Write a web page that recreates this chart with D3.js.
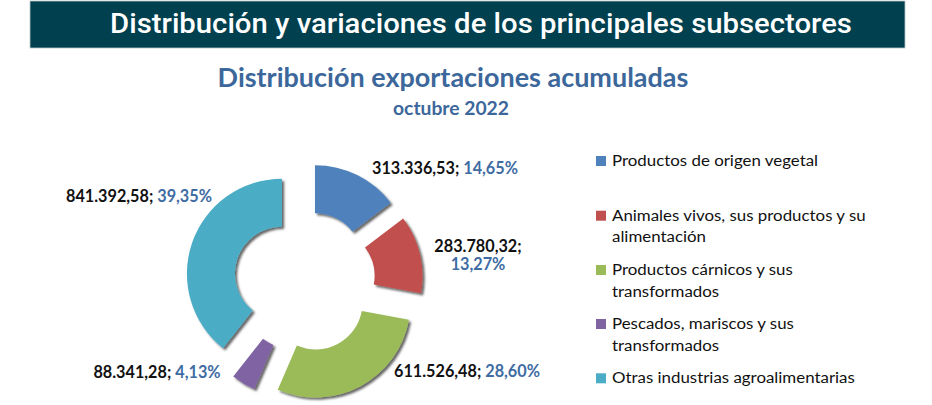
<!DOCTYPE html>
<html><head><meta charset="utf-8">
<script src="https://cdn.jsdelivr.net/npm/d3@7"></script>
<style>body{margin:0;background:#fff} svg{display:block}</style>
</head><body>
<svg id="chart" width="932" height="405"></svg>
<script>
// ---- data ----
const categories = ["Productos de origen vegetal","Animales vivos, sus productos y su alimentación","Productos cárnicos y sus transformados","Pescados, mariscos y sus transformados","Otras industrias agroalimentarias"];
const legendLines = [["Productos de origen vegetal"],["Animales vivos, sus productos y su","alimentación"],["Productos cárnicos y sus","transformados"],["Pescados, mariscos y sus","transformados"],["Otras industrias agroalimentarias"]];
const values = [313336.53, 283780.32, 611526.48, 88341.28, 841392.58];
const headerTitle = "Distribución y variaciones de los principales subsectores";
const chartTitle = "Distribución exportaciones acumuladas";
const chartSubtitle = "octubre 2022";

// ---- styles / layout ----
const colors = ["#4F81BD","#C0504D","#9BBB59","#8064A2","#4BACC6"];
const donut = {cx: 304.4, cy: 281.5, R: 95, r: 47, explode: 23.8};
const labelLayout = [
  {x: 445, y: 174, wrap: false},
  {x: 478, y: 252, wrap: true},
  {x: 467, y: 377, wrap: false},
  {x: 157, y: 378, wrap: false},
  {x: 139, y: 202, wrap: false}
];
const legendLayout = {x: 596, textX: 612, baselines: [166, 220.7, 275, 329, 383.3], lineGap: 21.5};

const svg = d3.select("#chart");
const locale = d3.formatLocale({decimal: ",", thousands: ".", grouping: [3], currency: ["", "€"]});
const fmtNum = locale.format(",.2f");
const fmtPct = locale.format(".2f");

const defs = svg.append("defs");
const f = defs.append("filter").attr("id", "shadow").attr("x", "-20%").attr("y", "-20%").attr("width", "140%").attr("height", "140%");
f.append("feDropShadow").attr("dx", 2.2).attr("dy", 2.2).attr("stdDeviation", 1.1)
  .attr("flood-color", "#000").attr("flood-opacity", 0.6);

function fitG(g, textNode, targetW) {
  const w = textNode.getBBox().width;
  return w > 0 ? targetW / w : 1;
}

// header
svg.append("rect").attr("x", 30).attr("y", 1).attr("width", 875).attr("height", 47)
  .attr("fill", "#00404F").attr("stroke", "#b9c6c9").attr("stroke-width", 0.8);
{
  const g = svg.append("g");
  const t = g.append("text").attr("text-anchor", "middle")
    .attr("font-family", "Roboto").attr("font-weight", 500).attr("font-size", 27.5).attr("fill", "#fff").text(headerTitle);
  const k = fitG(g, t.node(), 742);
  g.attr("transform", `translate(481,33) scale(${k},1)`);
}
// titles
{
  const g = svg.append("g");
  const t = g.append("text").attr("text-anchor", "middle")
    .attr("font-family", "Lato").attr("font-weight", 700).attr("font-size", 26.5).attr("fill", "#3C679B").text(chartTitle);
  const k = fitG(g, t.node(), 471);
  g.attr("transform", `translate(453,87) scale(${k},1)`);
  const g2 = svg.append("g");
  const t2 = g2.append("text").attr("text-anchor", "middle")
    .attr("font-family", "Lato").attr("font-weight", 700).attr("font-size", 19.5).attr("fill", "#3C679B").text(chartSubtitle);
  const k2 = fitG(g2, t2.node(), 116);
  g2.attr("transform", `translate(451,115) scale(${k2},1)`);
}

// donut
const total = d3.sum(values);
const pie = d3.pie().sort(null).value(d => d);
const arcs = pie(values);
const arc = d3.arc().innerRadius(donut.r).outerRadius(donut.R);
const dg = svg.append("g").attr("transform", `translate(${donut.cx},${donut.cy})`);
dg.selectAll("path").data(arcs).join("path")
  .attr("d", arc)
  .attr("fill", (d, i) => colors[i])
  .attr("filter", "url(#shadow)")
  .attr("transform", d => {
    const a = (d.startAngle + d.endAngle) / 2;
    return `translate(${Math.sin(a) * donut.explode},${-Math.cos(a) * donut.explode})`;
  });

// labels
const labelFont = 16.5;
arcs.forEach((d, i) => {
  const L = labelLayout[i];
  const num = fmtNum(values[i]) + ";";
  const pct = fmtPct(values[i] / total * 100) + "%";
  const g = svg.append("g");
  const t = g.append("text").attr("text-anchor", "middle")
    .attr("font-family", "Lato").attr("font-weight", 700).attr("font-size", labelFont);
  if (!L.wrap) {
    t.append("tspan").attr("fill", "#111").text(num + " ");
    t.append("tspan").attr("fill", "#3E6CA3").text(pct);
  } else {
    t.append("tspan").attr("x", 0).attr("fill", "#111").text(num);
    t.append("tspan").attr("x", 0).attr("dy", 18.5).attr("fill", "#3E6CA3").text(pct);
  }
  d.labelG = g; d.labelT = t;
});
// uniform horizontal scale from cyan label (reference width 146)
const labelK = 146 / arcs[4].labelT.node().getBBox().width;
arcs.forEach((d, i) => {
  const L = labelLayout[i];
  d.labelG.attr("transform", `translate(${L.x},${L.y}) scale(${labelK},1)`);
});

// legend
const lg = svg.append("g");
const legTexts = [];
legendLines.forEach((lines, i) => {
  const b = legendLayout.baselines[i];
  lg.append("rect").attr("x", legendLayout.x).attr("y", b - 10).attr("width", 10).attr("height", 10).attr("fill", colors[i]);
  lines.forEach((ln, j) => {
    const g = lg.append("g");
    const t = g.append("text").attr("font-family", "Lato").attr("font-size", 16).attr("fill", "#111").text(ln);
    legTexts.push({g, t, x: legendLayout.textX, y: b + j * legendLayout.lineGap});
  });
});
const legK = 243 / legTexts[legTexts.length - 1].t.node().getBBox().width;
legTexts.forEach(o => o.g.attr("transform", `translate(${o.x},${o.y}) scale(${legK},1)`));
</script>
</body></html>
